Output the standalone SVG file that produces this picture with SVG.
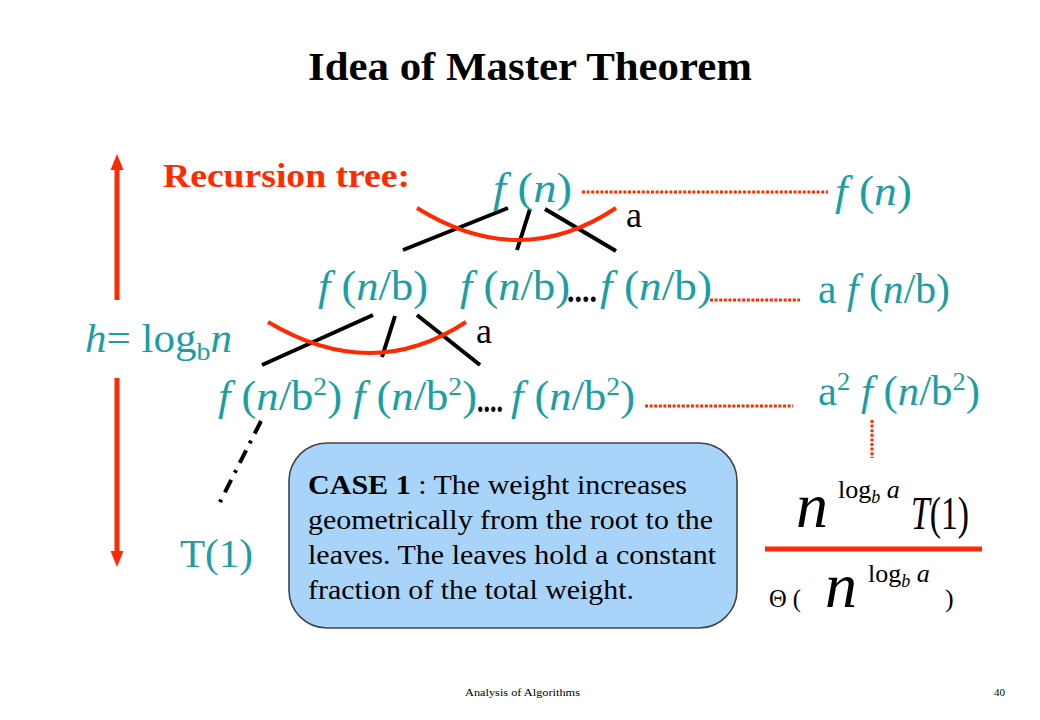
<svg xmlns="http://www.w3.org/2000/svg" width="1040" height="720" viewBox="0 0 1040 720">
<style>
.t{font-family:"Liberation Serif","Times New Roman",serif;}
.teal{fill:#1b9ea4;}
.i{font-style:italic;}
.tree{stroke:#000;stroke-width:4;fill:none;}
.arc{stroke:#ff2a00;stroke-width:4;fill:none;}
.dot{stroke:#ff2a00;stroke-width:3;stroke-dasharray:3 1.6;fill:none;}
.red{stroke:#ff2a00;fill:none;}
</style>
<rect width="1040" height="720" fill="#fff"/>
<g id="title"><text class="t" x="308" y="80" font-size="40" font-weight="bold" textLength="444" lengthAdjust="spacingAndGlyphs">Idea of Master Theorem</text></g>
<g id="recursion-label"><text class="t" x="163" y="187" font-size="34" font-weight="bold" fill="#ff2a00" textLength="247" lengthAdjust="spacingAndGlyphs">Recursion tree:</text></g>
<g id="connectors">
<path class="red" stroke-width="5" d="M117,168 V300 M117,378 V553"/>
<polygon points="117,154 110.5,170 123.5,170" fill="#ff2a00"/>
<polygon points="117,567 110.5,551 123.5,551" fill="#ff2a00"/>
<path class="tree" d="M508,208 L403,250 M530,209 L517,250 M545,209 L616,251"/>
<path class="arc" d="M417,208 Q520,272 616,208"/>
<path class="tree" d="M373,315 L262,365 M395,316 L382,357 M417,315 L480,365"/>
<path class="arc" d="M268,322 Q372,384 466,322"/>
<path class="tree" stroke-width="3.5" d="M261,421 L217,508" stroke-dasharray="14 8 3 8"/>
<path class="dot" d="M582,192 H828"/>
<path class="dot" d="M710,300 H800"/>
<path class="dot" d="M645,406 H793"/>
<path class="dot" d="M872,420 V458"/>
<path class="red" stroke-width="5" d="M765,549 H982"/>
</g>
<g id="root" class="t teal" font-size="42">
<text x="493" y="202" textLength="79" lengthAdjust="spacingAndGlyphs"><tspan class="i">f</tspan> (<tspan class="i">n</tspan>)</text>
<text x="626" y="227" font-size="36" fill="#000">a</text>
</g>
<g id="level1" class="t teal" font-size="42">
<text x="318" y="300" textLength="110" lengthAdjust="spacingAndGlyphs"><tspan class="i">f</tspan> (<tspan class="i">n</tspan>/b)</text>
<text x="460" y="300" textLength="110" lengthAdjust="spacingAndGlyphs"><tspan class="i">f</tspan> (<tspan class="i">n</tspan>/b)</text>
<text x="567" y="302" font-size="34" font-weight="bold" fill="#000" textLength="30" lengthAdjust="spacingAndGlyphs">....</text>
<text x="600" y="300" textLength="112" lengthAdjust="spacingAndGlyphs"><tspan class="i">f</tspan> (<tspan class="i">n</tspan>/b)</text>
<text x="476" y="343" font-size="36" fill="#000">a</text>
</g>
<g id="level2" class="t teal" font-size="42">
<text x="218" y="410" textLength="124" lengthAdjust="spacingAndGlyphs"><tspan class="i">f</tspan> (<tspan class="i">n</tspan>/b<tspan font-size="26" dy="-15">2</tspan><tspan dy="15">)</tspan></text>
<text x="353" y="410" textLength="124" lengthAdjust="spacingAndGlyphs"><tspan class="i">f</tspan> (<tspan class="i">n</tspan>/b<tspan font-size="26" dy="-15">2</tspan><tspan dy="15">)</tspan></text>
<text x="477" y="412" font-size="34" font-weight="bold" fill="#000" textLength="26" lengthAdjust="spacingAndGlyphs">....</text>
<text x="511" y="410" textLength="124" lengthAdjust="spacingAndGlyphs"><tspan class="i">f</tspan> (<tspan class="i">n</tspan>/b<tspan font-size="26" dy="-15">2</tspan><tspan dy="15">)</tspan></text>
</g>
<g id="height" class="t teal" font-size="40">
<text x="85" y="352" textLength="147" lengthAdjust="spacingAndGlyphs"><tspan class="i">h</tspan>= log<tspan font-size="26" dy="8">b</tspan><tspan class="i" dy="-8">n</tspan></text>
</g>
<g id="leaf" class="t teal"><text x="180" y="567" font-size="40" textLength="73" lengthAdjust="spacingAndGlyphs">T(1)</text></g>
<g id="sums" class="t teal" font-size="42">
<text x="835" y="205" textLength="77" lengthAdjust="spacingAndGlyphs"><tspan class="i">f</tspan> (<tspan class="i">n</tspan>)</text>
<text x="818" y="303" textLength="132" lengthAdjust="spacingAndGlyphs">a <tspan class="i">f</tspan> (<tspan class="i">n</tspan>/b)</text>
<text x="818" y="405" textLength="162" lengthAdjust="spacingAndGlyphs">a<tspan font-size="26" dy="-15">2</tspan><tspan dy="15"> </tspan><tspan class="i">f</tspan> (<tspan class="i">n</tspan>/b<tspan font-size="26" dy="-15">2</tspan><tspan dy="15">)</tspan></text>
</g>
<g id="case-box">
<rect x="289" y="443" width="448" height="185" rx="38" fill="#a8d4fa" stroke="#444" stroke-width="1.6"/>
<g class="t" font-size="27" fill="#000">
<text x="308" y="494" textLength="379" lengthAdjust="spacingAndGlyphs"><tspan font-weight="bold">CASE 1</tspan> : The weight increases</text>
<text x="308" y="529" textLength="405" lengthAdjust="spacingAndGlyphs">geometrically from the root to the</text>
<text x="308" y="564" textLength="408" lengthAdjust="spacingAndGlyphs">leaves. The leaves hold a constant</text>
<text x="308" y="599" textLength="326" lengthAdjust="spacingAndGlyphs">fraction of the total weight.</text>
</g>
</g>
<g id="total" class="t" fill="#000">
<text x="796" y="527" font-size="64" class="i">n</text>
<text x="838" y="498" font-size="26">log<tspan class="i" font-size="18" dy="5">b</tspan><tspan class="i" dy="-5"> a</tspan></text>
<text x="911" y="529" font-size="46" textLength="58" lengthAdjust="spacingAndGlyphs"><tspan class="i">T</tspan>(1)</text>
<text x="769" y="607" font-size="26" textLength="32" lengthAdjust="spacingAndGlyphs">Θ (</text>
<text x="825" y="607" font-size="64" class="i">n</text>
<text x="868" y="582" font-size="26">log<tspan class="i" font-size="18" dy="5">b</tspan><tspan class="i" dy="-5"> a</tspan></text>
<text x="945" y="607" font-size="26">)</text>
</g>
<g id="footer" class="t" font-size="11" fill="#000">
<text x="465" y="696" textLength="115" lengthAdjust="spacingAndGlyphs">Analysis of Algorithms</text>
<text x="994" y="696">40</text>
</g>
</svg>
